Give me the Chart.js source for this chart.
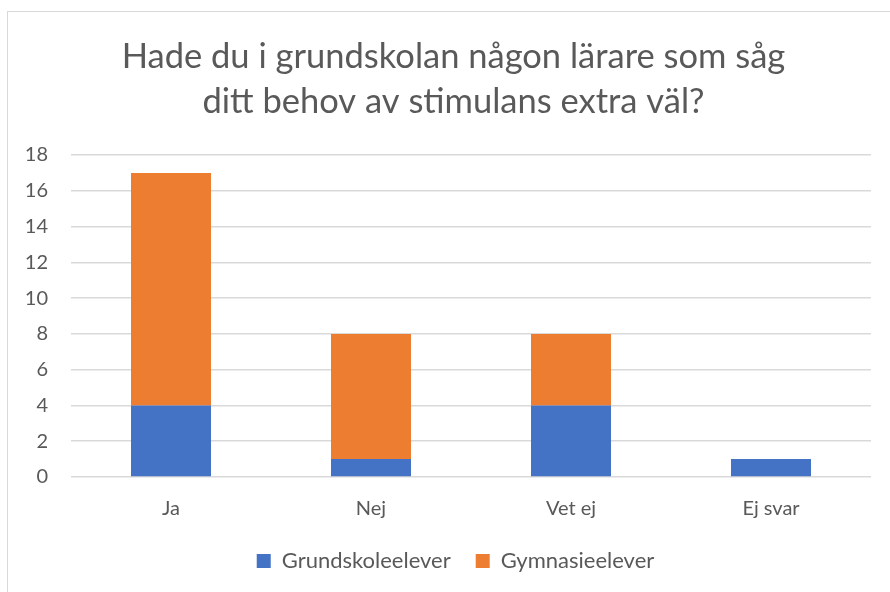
<!DOCTYPE html>
<html>
<head>
<meta charset="utf-8">
<script src="https://cdn.jsdelivr.net/npm/chart.js@4"></script>
<style>
  html, body { margin: 0; padding: 0; background: #fff; overflow: hidden; }
  #frame { position: absolute; left: 7px; top: 11px; width: 900px; height: 600px; border: 1px solid #d9d9d9; }
  #wrap { position: absolute; left: 0; top: 0; width: 890px; height: 592px; }
</style>
</head>
<body>
<div id="frame"></div>
<div id="wrap"><canvas id="chart" width="890" height="592"></canvas></div>
<script>
// categories and series
const categories = ['Ja', 'Nej', 'Vet ej', 'Ej svar'];
const grundskoleelever = [4, 1, 4, 1];
const gymnasieelever = [13, 7, 4, 0];
const titleLines = ['Hade du i grundskolan någon lärare som såg', 'ditt behov av stimulans extra väl?'];

const textColor = '#595959';
const fontFamily = 'Lato, "Open Sans", sans-serif';

// the Excel frame runs past the right edge, so title and legend sit a bit right of centre
const centreShift = {
  id: 'centreShift',
  afterLayout(chart) {
    chart.titleBlock.left += 18;
    chart.titleBlock.right += 18;
    chart.legend.left += 20;
    chart.legend.right += 20;
  },
};

const ctx = document.getElementById('chart').getContext('2d');
new Chart(ctx, {
  type: 'bar',
  data: {
    labels: categories,
    datasets: [
      {
        label: 'Grundskoleelever',
        data: grundskoleelever,
        backgroundColor: '#4472C4',
        barPercentage: 0.4,
        categoryPercentage: 1,
      },
      {
        label: 'Gymnasieelever',
        data: gymnasieelever,
        backgroundColor: '#ED7D31',
        barPercentage: 0.4,
        categoryPercentage: 1,
      },
    ],
  },
  plugins: [centreShift],
  options: {
    responsive: false,
    animation: false,
    layout: { padding: { left: 0, right: 19, top: 0, bottom: 10 } },
    plugins: {
      title: {
        display: true,
        text: titleLines,
        color: textColor,
        font: { family: fontFamily, size: 34.5, weight: 'normal', lineHeight: 1.29 },
        padding: { top: 35, bottom: 31 },
      },
      legend: {
        position: 'bottom',
        labels: {
          color: textColor,
          font: { family: fontFamily, size: 22 },
          boxWidth: 14,
          boxHeight: 14,
          padding: 25,
        },
      },
      tooltip: { enabled: false },
    },
    scales: {
      x: {
        stacked: true,
        grid: { display: false, drawTicks: false },
        border: { display: false },
        ticks: { color: textColor, font: { family: fontFamily, size: 20 }, padding: 20 },
        afterFit: (scale) => { scale.height = 48; },
      },
      y: {
        stacked: true,
        min: 0,
        max: 18,
        ticks: { stepSize: 2, color: textColor, font: { family: fontFamily, size: 20 }, padding: 23 },
        grid: { color: '#d9d9d9', lineWidth: 1.5, drawTicks: false },
        border: { display: false },
        afterFit: (scale) => { scale.width = 71; },
      },
    },
  },
});
</script>
</body>
</html>
